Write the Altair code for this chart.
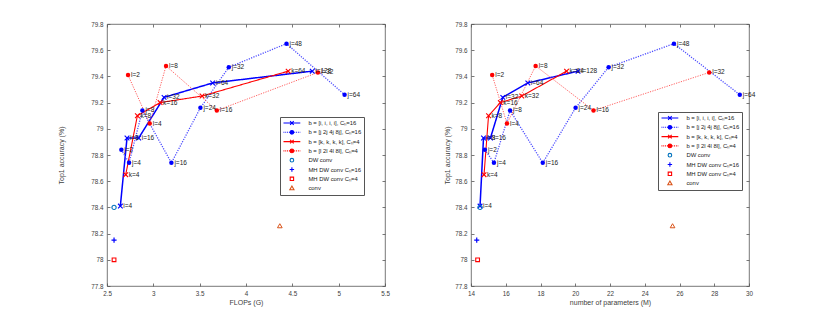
import altair as alt
import pandas as pd

# ---------------- data ----------------
i_vals = [4, 8, 16, 32, 64, 128]
i_acc = [78.41, 78.93, 78.93, 79.24, 79.35, 79.44]
i_flops = [2.644, 2.716, 2.842, 3.116, 3.640, 4.715]
i_params = [14.52, 14.72, 15.12, 15.83, 17.27, 20.16]

j_vals = [2, 4, 8, 16, 24, 32, 48, 64]
j_acc = [78.84, 78.74, 79.14, 78.74, 79.16, 79.47, 79.65, 79.26]
j_flops = [2.655, 2.738, 2.882, 3.195, 3.508, 3.814, 4.437, 5.064]
j_params = [14.80, 15.32, 16.25, 18.13, 20.02, 21.92, 25.68, 29.47]

k_vals = [4, 8, 16, 32, 64]
k_acc = [78.65, 79.10, 79.20, 79.25, 79.44]
k_flops = [2.702, 2.828, 3.073, 3.526, 4.455]
k_params = [14.75, 15.01, 15.69, 16.92, 19.50]

l_vals = [2, 4, 8, 16, 32]
l_acc = [79.41, 79.04, 79.48, 79.14, 79.43]
l_flops = [2.727, 2.961, 3.137, 3.685, 4.776]
l_params = [15.22, 16.07, 17.72, 21.05, 27.71]

single_names = ["dw", "mh16", "mh4", "conv"]
single_acc = [78.40, 78.15, 78.00, 78.26]
single_flops = [2.576, 2.576, 2.576, 4.365]
single_params = [14.52, 14.33, 14.38, 25.60]

legend_labels = [
    "b = [i, i, i, i], C\u2095=16",
    "b = [j 2j 4j 8j], C\u2095=16",
    "b = [k, k, k, k], C\u2095=4",
    "b = [l 2l 4l 8l], C\u2095=4",
    "DW conv",
    "MH DW conv C\u2095=16",
    "MH DW conv C\u2095=4",
    "conv",
]

flops_ticks = [2.5, 3, 3.5, 4, 4.5, 5, 5.5]
params_ticks = [14, 16, 18, 20, 22, 24, 26, 28, 30]
acc_ticks = [77.8, 78.0, 78.2, 78.4, 78.6, 78.8, 79.0, 79.2, 79.4, 79.6, 79.8]

# ---------------- styling ----------------
BLUE = "#0000FF"
RED = "#FF0000"
LBLUE = "#4d4dff"
LRED = "#ff4d4d"
W, H = 278, 262
FONT = "Liberation Sans"
AXC = "#404040"

XPATH = "M-1,-1L1,1M-1,1L1,-1"
PLUS = "M-1,0L1,0M0,-1L0,1"

SYM_SIZE = 25
U = (SYM_SIZE ** 0.5) / 2.0  # px per path unit in the legend


def p(v):
    return f"{v / U:.3f}"


def dots(half=8.4, step=0.9):
    s = ""
    x = -half
    while x < half - 0.1:
        s += f"M{p(x)},0L{p(min(x + step, half))},0"
        x += 2 * step
    return s


R = 1.8
CIRC = f"M-{p(R)},0A{p(R)},{p(R)},0,1,0,{p(R)},0A{p(R)},{p(R)},0,1,0,-{p(R)},0Z"
LINE = f"M-{p(8.4)},0L{p(8.4)},0"
XM = f"M-{p(1.8)},-{p(1.8)}L{p(1.8)},{p(1.8)}M-{p(1.8)},{p(1.8)}L{p(1.8)},-{p(1.8)}"
legend_paths = [
    LINE + XM,
    dots() + CIRC,
    LINE + XM,
    dots() + CIRC,
    CIRC,
    f"M-{p(2.2)},0L{p(2.2)},0M0,-{p(2.2)}L0,{p(2.2)}",
    f"M-{p(1.7)},-{p(1.7)}L{p(1.7)},-{p(1.7)}L{p(1.7)},{p(1.7)}L-{p(1.7)},{p(1.7)}Z",
    f"M0,-{p(2.1)}L{p(2.1)},{p(1.6)}L-{p(2.1)},{p(1.6)}Z",
]
legend_fill = [BLUE, BLUE, RED, RED, "transparent", BLUE, "transparent", "transparent"]
legend_stroke = [BLUE, BLUE, RED, RED, "#0072BD", BLUE, RED, "#D95319"]


def build_df(xs_i, xs_j, xs_k, xs_l, xs_s):
    rows = []
    for code, vals, acc, xs, lab in [
        ("i", i_vals, i_acc, xs_i, 0),
        ("j", j_vals, j_acc, xs_j, 1),
        ("k", k_vals, k_acc, xs_k, 2),
        ("l", l_vals, l_acc, xs_l, 3),
    ]:
        for n, (v, a, x) in enumerate(zip(vals, acc, xs)):
            rows.append(dict(series=code, x=x, acc=a, txt=f"{code}={v}",
                             order=n, label=legend_labels[lab]))
    for n, (name, a, x) in enumerate(zip(single_names, single_acc, xs_s)):
        rows.append(dict(series=name, x=x, acc=a, txt="", order=0,
                         label=legend_labels[4 + n]))
    return pd.DataFrame(rows)


def panel(df, xdomain, xticks, xtitle, ytitle_pad, lx, ly):
    xscale = alt.Scale(domain=xdomain, nice=False, zero=False)
    yscale = alt.Scale(domain=[77.8, 79.8], nice=False, zero=False)
    common = dict(grid=False, domain=False, labelFlush=False, labelOverlap=False)

    xA = alt.Axis(orient="bottom", values=xticks, format=".1~f", ticks=False,
                  labelPadding=4, labelFontSize=6.3, labelColor=AXC, labelFont=FONT,
                  title=xtitle, titleFontSize=7, titleFont=FONT, titleColor=AXC,
                  titleFontWeight="normal", titlePadding=2, **common)
    yA = alt.Axis(orient="left", values=acc_ticks, format=".1~f", ticks=False,
                  labelPadding=4, labelFontSize=6.3, labelColor=AXC, labelFont=FONT,
                  title="Top1 accuracy (%)", titleFontSize=7, titleFont=FONT,
                  titleColor=AXC, titleFontWeight="normal", titlePadding=ytitle_pad,
                  **common)
    tick_kw = dict(labels=False, tickSize=3, tickColor="#555", tickWidth=0.8,
                   title=None, **common)
    xB = alt.Axis(orient="top", offset=-H, values=xticks, **tick_kw)
    xC = alt.Axis(orient="bottom", offset=-H, values=xticks, **tick_kw)
    yB = alt.Axis(orient="right", offset=-W, values=acc_ticks, **tick_kw)
    yC = alt.Axis(orient="left", offset=-W, values=acc_ticks, **tick_kw)

    def X(ax=None):
        return alt.X("x:Q", scale=xscale, axis=ax)

    def Y(ax=None):
        return alt.Y("acc:Q", scale=yscale, axis=ax)

    base = alt.Chart(df)
    lines = base.transform_filter(
        "indexof(['i','j','k','l'], datum.series) >= 0"
    ).mark_line().encode(
        x=X(xA), y=Y(yA),
        color=alt.Color("series:N", scale=alt.Scale(domain=["i", "j", "k", "l"],
                                                     range=[BLUE, LBLUE, RED, LRED]),
                        legend=None),
        strokeDash=alt.StrokeDash("series:N", scale=alt.Scale(
            domain=["i", "j", "k", "l"],
            range=[[1, 0], [1.2, 1.3], [1, 0], [1.2, 1.3]]), legend=None),
        strokeWidth=alt.StrokeWidth("series:N", scale=alt.Scale(
            domain=["i", "j", "k", "l"], range=[1.5, 0.9, 1.5, 0.9]), legend=None),
        order="order:Q",
    )

    marker_specs = [
        ("i", dict(shape=XPATH, filled=False, color=BLUE, size=22, strokeWidth=1.1)),
        ("j", dict(shape="circle", filled=True, color=BLUE, size=20)),
        ("k", dict(shape=XPATH, filled=False, color=RED, size=22, strokeWidth=1.1)),
        ("l", dict(shape="circle", filled=True, color=RED, size=20)),
        ("dw", dict(shape="circle", filled=False, color="#0072BD", size=18, strokeWidth=1.1)),
        ("mh16", dict(shape=PLUS, filled=False, color=BLUE, size=26, strokeWidth=1.2)),
        ("mh4", dict(shape="square", filled=False, color=RED, size=14, strokeWidth=1.1)),
        ("conv", dict(shape="triangle-up", filled=False, color="#D95319", size=22, strokeWidth=1)),
    ]
    point_layers = []
    for n, (code, kw) in enumerate(marker_specs):
        xa = xB if n == 0 else None
        ya = yB if n == 0 else None
        point_layers.append(
            base.transform_filter(f"datum.series == '{code}'")
            .mark_point(opacity=1, **kw)
            .encode(x=X(xa), y=Y(ya))
        )

    texts = base.transform_filter("datum.txt != ''").mark_text(
        align="left", baseline="middle", dx=3, fontSize=6.5, font=FONT, color="#222"
    ).encode(x=X(xC), y=Y(yC), text="txt:N")

    leg = alt.Legend(orient="none", legendX=lx, legendY=ly, title=None,
                     labelFontSize=5.9, labelFont=FONT, labelColor="#222",
                     symbolSize=SYM_SIZE, symbolStrokeWidth=1.1, symbolOffset=5.9,
                     labelOffset=13, strokeColor="#555", fillColor="white",
                     padding=2.5, rowPadding=0.3, labelLimit=300)
    legend_layer = base.transform_filter("false").mark_point(opacity=1).encode(
        x=X(), y=Y(),
        shape=alt.Shape("label:N", scale=alt.Scale(domain=legend_labels, range=legend_paths), legend=leg),
        fill=alt.Fill("label:N", scale=alt.Scale(domain=legend_labels, range=legend_fill), legend=leg),
        stroke=alt.Stroke("label:N", scale=alt.Scale(domain=legend_labels, range=legend_stroke), legend=leg),
    )

    return alt.layer(lines, *point_layers, texts, legend_layer).resolve_axis(
        x="independent", y="independent"
    ).properties(width=W, height=H)


df_flops = build_df(i_flops, j_flops, k_flops, l_flops, single_flops)
df_params = build_df(i_params, j_params, k_params, l_params, single_params)

left = panel(df_flops, [2.5, 5.5], flops_ticks, "FLOPs (G)", 26, 173, 93)
right = panel(df_params, [14, 30], params_ticks, "number of parameters (M)", 4, 187, 88)

chart = alt.hconcat(left, right, spacing=53).resolve_scale(
    x="independent", shape="independent", fill="independent", stroke="independent"
).resolve_legend(
    shape="independent", fill="independent", stroke="independent"
).properties(
    padding={"left": 49, "top": 12, "right": 5, "bottom": 5},
    background="white",
).configure_view(stroke="#555", strokeWidth=0.8)

chart.save("out.html", embed_options={"renderer": "svg", "actions": False})
